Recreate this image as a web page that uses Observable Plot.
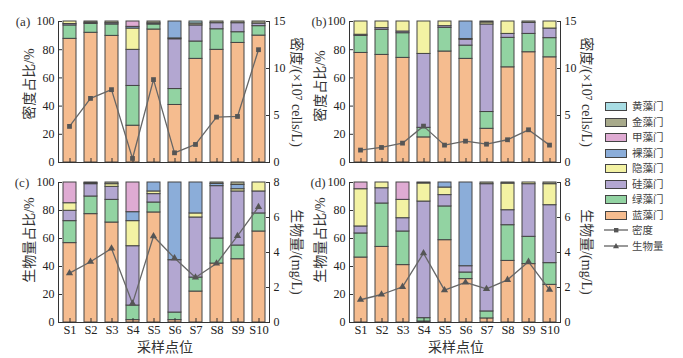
<!DOCTYPE html>
<html><head><meta charset="utf-8">
<script src="https://cdn.jsdelivr.net/npm/d3@7"></script>
<script src="https://cdn.jsdelivr.net/npm/@observablehq/plot@0.6"></script>
<style>
body{margin:0;background:#fff;}
#root{position:relative;width:683px;height:358px;overflow:hidden;font-family:"Liberation Serif","Noto Sans CJK SC",serif;color:#333;}
#root svg{position:absolute;}
</style></head><body><div id="root"></div><script>
// ---- data ----
const stations = ["S1","S2","S3","S4","S5","S6","S7","S8","S9","S10"];
// stack order, bottom -> top
const phyla = ["蓝藻门","绿藻门","硅藻门","隐藻门","裸藻门","甲藻门","金藻门","黄藻门"];
const phylumColors = ["#f5bc8f","#92d3a2","#b3a7d1","#f3f2a3","#8badd9","#dfabd3","#a8aa8b","#a8dde4"];
const legendOrder = ["黄藻门","金藻门","甲藻门","裸藻门","隐藻门","硅藻门","绿藻门","蓝藻门"];

// (a) density share %, per station: 蓝,绿,硅,隐,裸,甲,金,黄
const densityShareA = [
  [87.7, 9.5, 1.0, 1.8, 0, 0, 0, 0],
  [92.0, 6.3, 0.8, 0, 0, 0, 0.9, 0],
  [89.8, 8.1, 0.9, 0, 0, 0, 1.2, 0],
  [26.1, 28.2, 25.6, 15.1, 1.2, 3.8, 0, 0],
  [94.3, 3.6, 0.8, 0, 0, 0, 1.3, 0],
  [40.8, 11.3, 35.3, 0.6, 12.0, 0, 0, 0],
  [73.5, 12.3, 11.4, 0, 0, 0, 1.4, 1.4],
  [79.9, 14.6, 4.3, 0, 0, 0, 1.2, 0],
  [84.8, 7.6, 6.4, 0, 0, 0, 1.2, 0],
  [90.0, 6.7, 1.8, 0, 0, 0, 1.5, 0]
];
// (b) density share %
const densityShareB = [
  [77.7, 12.1, 0.8, 9.4, 0, 0, 0, 0],
  [76.3, 17.8, 1.2, 4.7, 0, 0, 0, 0],
  [74.2, 17.5, 1.2, 7.1, 0, 0, 0, 0],
  [17.8, 6.8, 52.4, 23.0, 0, 0, 0, 0],
  [78.7, 16.8, 1.2, 3.3, 0, 0, 0, 0],
  [73.5, 9.4, 4.1, 0.6, 12.4, 0, 0, 0],
  [23.9, 11.9, 62.1, 1.4, 0, 0, 0.7, 0],
  [67.5, 20.9, 2.8, 8.8, 0, 0, 0, 0],
  [78.2, 13.0, 7.8, 0, 0, 0, 1.0, 0],
  [74.6, 13.6, 6.8, 5.0, 0, 0, 0, 0]
];
// (c) biomass share %
const biomassShareC = [
  [56.7, 15.7, 7.4, 5.4, 0, 14.8, 0, 0],
  [77.4, 12.6, 8.8, 0.7, 0, 0, 0.5, 0],
  [71.4, 16.2, 9.3, 1.9, 0, 0, 1.2, 0],
  [1.7, 10.4, 42.4, 17.9, 6.4, 21.2, 0, 0],
  [78.6, 7.1, 6.0, 1.9, 6.4, 0, 0, 0],
  [1.7, 5.4, 37.4, 0, 55.5, 0, 0, 0],
  [22.1, 10.0, 42.9, 2.9, 22.1, 0, 0, 0],
  [42.1, 17.9, 37.4, 0, 1.6, 0, 1.0, 0],
  [45.2, 9.8, 38.6, 1.6, 3.1, 0, 1.7, 0],
  [65.0, 12.9, 15.7, 6.4, 0, 0, 0, 0]
];
// (d) biomass share %
const biomassShareD = [
  [46.4, 17.2, 5.0, 26.6, 0, 4.8, 0, 0],
  [54.0, 31.0, 10.9, 4.1, 0, 0, 0, 0],
  [41.0, 24.0, 9.5, 13.1, 0, 12.4, 0, 0],
  [0.7, 2.4, 83.3, 12.9, 0, 0, 0.7, 0],
  [58.8, 24.1, 8.1, 5.4, 3.6, 0, 0, 0],
  [31.0, 4.7, 4.5, 0, 59.8, 0, 0, 0],
  [2.9, 5.0, 90.9, 0, 0, 0, 1.2, 0],
  [44.0, 25.5, 10.7, 19.0, 0, 0, 0.8, 0],
  [41.7, 19.5, 37.6, 1.2, 0, 0, 0, 0],
  [26.9, 15.5, 41.4, 15.0, 0, 0, 1.2, 0]
];
// lines
const densityA = [3.84, 6.82, 7.75, 0.43, 8.82, 1.03, 1.92, 4.83, 4.90, 12.0];
const densityB = [1.32, 1.60, 2.06, 3.87, 1.85, 2.27, 1.95, 2.42, 3.48, 1.85];
const biomassC = [2.82, 3.47, 4.23, 1.09, 4.93, 3.68, 2.57, 3.37, 4.95, 6.61];
const biomassD = [1.30, 1.60, 2.04, 3.96, 1.85, 2.29, 1.92, 2.44, 3.47, 1.87];

const shareTicks = [0, 20, 40, 60, 80, 100];
const densityTicks = [0, 5, 10, 15];
const biomassTicks = [0, 2, 4, 6, 8];

// ---- drawing ----
const root = document.getElementById("root");
const FONT = '"Liberation Serif","Noto Sans CJK SC",serif';

function panel({left, top, height, mT, mB, shares, series, yMax, rTicks, symbol, showX}) {
  const W = 300, mL = 58, mR = 31;
  const fw = W - mL - mR, fh = height - mT - mB;
  const rows = [];
  shares.forEach((r, i) => r.forEach((v, j) => { if (v > 0) rows.push({station: stations[i], phylum: phyla[j], value: v}); }));
  const common = {
    width: W, height, marginLeft: mL, marginRight: mR, marginTop: mT, marginBottom: mB,
    style: {background: "transparent", fontFamily: FONT, fontSize: "12px", color: "#222", overflow: "visible"}
  };
  const bars = Plot.plot({
    ...common,
    x: {type: "band", domain: stations, paddingInner: 0.384, paddingOuter: 0.192},
    y: {domain: [0, 100]},
    color: {domain: phyla, range: phylumColors},
    marks: [
      Plot.barY(rows, {x: "station", y: "value", fill: "phylum", stroke: "#444", strokeWidth: 1}),
      Plot.frame({stroke: "#333", strokeDasharray: `0,${fw},${fw + 2 * fh}`}),
      Plot.axisY({anchor: "left", ticks: shareTicks, tickSize: 0, tickPadding: 4, label: null}),
      Plot.axisY({anchor: "left", ticks: shareTicks, tickSize: 4, dx: 4, fill: "none", stroke: "#333", label: null}),
      Plot.axisX({anchor: "bottom", tickSize: 4, dy: -4, fill: "none", stroke: "#333", label: null}),
      ...(showX ? [Plot.axisX({anchor: "bottom", tickSize: 0, tickPadding: 3, fontSize: 12.5, label: null})] : [])
    ]
  });
  const pts = stations.map((s, i) => ({station: s, v: series[i]}));
  const over = Plot.plot({
    ...common,
    x: {type: "point", domain: stations, padding: 0.5, axis: null},
    y: {domain: [0, yMax]},
    marks: [
      Plot.axisY({anchor: "right", ticks: rTicks, tickSize: 0, tickPadding: 4, label: null}),
      Plot.axisY({anchor: "right", ticks: rTicks, tickSize: 4, dx: -4, fill: "none", stroke: "#333", label: null}),
      Plot.line(pts, {x: "station", y: "v", stroke: "#666", strokeWidth: 1.3}),
      Plot.dot(pts, {x: "station", y: "v", symbol, fill: "#555", stroke: "none", r: 2.7})
    ]
  });
  for (const s of [bars, over]) {
    s.style.left = left + "px";
    s.style.top = top + "px";
    root.appendChild(s);
  }
}

panel({left: 0, top: 0, height: 175, mT: 21, mB: 13, shares: densityShareA, series: densityA, yMax: 15, rTicks: densityTicks, symbol: "square", showX: false});
panel({left: 291, top: 0, height: 175, mT: 21, mB: 13, shares: densityShareB, series: densityB, yMax: 15, rTicks: densityTicks, symbol: "square", showX: false});
panel({left: 0, top: 170, height: 188, mT: 12, mB: 36, shares: biomassShareC, series: biomassC, yMax: 8, rTicks: biomassTicks, symbol: "triangle", showX: true});
panel({left: 291, top: 170, height: 188, mT: 12, mB: 36, shares: biomassShareD, series: biomassD, yMax: 8, rTicks: biomassTicks, symbol: "triangle", showX: true});

function label(txt, cx, cy, size, rot) {
  const d = document.createElement("div");
  d.textContent = txt;
  d.style.cssText = `position:absolute;left:${cx}px;top:${cy}px;transform:translate(-50%,-50%) rotate(${rot || 0}deg);white-space:nowrap;font-size:${size}px;line-height:1;color:#333;font-family:${FONT};`;
  root.appendChild(d);
}
// panel letters
label("(a)", 23, 21, 13);
label("(b)", 319, 21, 13);
label("(c)", 22, 182, 13);
label("(d)", 318, 182, 13);
// y titles
label("密度占比/%", 30, 84, 14, -90);
label("密度占比/%", 321, 86, 14, -90);
label("生物量占比/%", 30, 240, 14, -90);
label("生物量占比/%", 321, 240, 14, -90);
label("密度/(×10⁷ cells/L)", 296, 92, 14, 90);
label("密度/(×10⁷ cells/L)", 586, 92, 14, 90);
label("生物量/(mg/L)", 296, 252, 14, 90);
label("生物量/(mg/L)", 586, 252, 14, 90);
// x titles
label("采样点位", 165, 348, 14);
label("采样点位", 456, 348, 14);

// legend
const legendRowsY = [106, 121.5, 137, 152.5, 168, 183.5, 199, 214.5];
const LEGEND_FONT = 'font-size:10.5px;line-height:1;color:#444;font-family:"Noto Sans CJK SC",sans-serif;';
legendOrder.forEach((p, i) => {
  const sw = document.createElement("div");
  const c = phylumColors[phyla.indexOf(p)];
  sw.style.cssText = `position:absolute;left:605px;top:${legendRowsY[i] - 4}px;width:20px;height:7px;background:${c};border:1px solid #444;`;
  root.appendChild(sw);
  const t = document.createElement("div");
  t.textContent = p;
  t.style.cssText = `position:absolute;left:632px;top:${legendRowsY[i]}px;transform:translateY(-50%);${LEGEND_FONT}`;
  root.appendChild(t);
});
const lineItems = [{name: "密度", y: 230, sym: "square"}, {name: "生物量", y: 245.5, sym: "triangle"}];
const ns = "http://www.w3.org/2000/svg";
lineItems.forEach(it => {
  const s = document.createElementNS(ns, "svg");
  s.setAttribute("width", 24); s.setAttribute("height", 10);
  s.style.left = "604px"; s.style.top = (it.y - 5) + "px";
  const l = document.createElementNS(ns, "line");
  l.setAttribute("x1", 0); l.setAttribute("x2", 24); l.setAttribute("y1", 5); l.setAttribute("y2", 5);
  l.setAttribute("stroke", "#555"); l.setAttribute("stroke-width", 1.2);
  s.appendChild(l);
  const m = document.createElementNS(ns, "path");
  m.setAttribute("d", it.sym === "square" ? "M10,3h4.4v4.4h-4.4z" : "M12,2L15,7.2L9,7.2z");
  m.setAttribute("fill", "#555");
  s.appendChild(m);
  root.appendChild(s);
  const t = document.createElement("div");
  t.textContent = it.name;
  t.style.cssText = `position:absolute;left:632px;top:${it.y}px;transform:translateY(-50%);${LEGEND_FONT}`;
  root.appendChild(t);
});
</script></body></html>
